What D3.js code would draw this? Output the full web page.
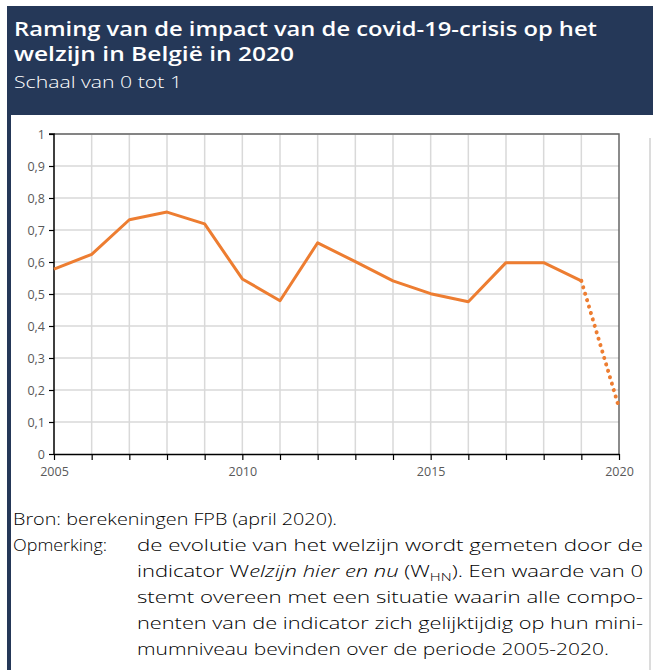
<!DOCTYPE html>
<html>
<head>
<meta charset="utf-8">
<script src="https://cdn.jsdelivr.net/npm/d3@7"></script>
<style>
    body { margin: 0; background: #fff; }
    #chart { width: 653px; height: 670px; }
</style>
</head>
<body>
<div id="chart"></div>
<script>
// Welzijn hier en nu, 2005-2019 (observed)
const years = [2005, 2006, 2007, 2008, 2009, 2010, 2011, 2012, 2013, 2014, 2015, 2016, 2017, 2018, 2019];
const welzijn = [0.578, 0.624, 0.732, 0.756, 0.719, 0.547, 0.479, 0.660, 0.601, 0.541, 0.501, 0.476, 0.598, 0.598, 0.541];

// Raming 2020 (dotted)
const ramingYears = [2019, 2020];
const ramingValues = [0.541, 0.145];

const yTicks = [0, 0.1, 0.2, 0.3, 0.4, 0.5, 0.6, 0.7, 0.8, 0.9, 1];
const xTickYears = [2005, 2006, 2007, 2008, 2009, 2010, 2011, 2012, 2013, 2014, 2015, 2016, 2017, 2018, 2019, 2020];
const xLabels = [2005, 2010, 2015, 2020];

const titleLines = ["Raming van de impact van de covid-19-crisis op het", "welzijn in België in 2020"];
const subtitle = "Schaal van 0 tot 1";

class WelzijnChart {
    constructor(parentElement) {
        this.parentElement = parentElement;
        this.initVis();
    }

    initVis() {
        let vis = this;

        vis.svg = d3.select(`#${vis.parentElement}`).append("svg")
            .attr("width", 653)
            .attr("height", 670);

        // header block + left border
        vis.svg.append("rect")
            .attr("x", 7).attr("y", 6)
            .attr("width", 646).attr("height", 109)
            .attr("fill", "#253858");
        vis.svg.append("rect")
            .attr("x", 7).attr("y", 115)
            .attr("width", 4).attr("height", 555)
            .attr("fill", "#253858");
        vis.svg.append("rect")
            .attr("x", 649).attr("y", 138)
            .attr("width", 2).attr("height", 532)
            .attr("fill", "#dcdcdc");

        vis.svg.selectAll("text.title")
            .data(titleLines)
            .enter().append("text")
            .attr("class", "title")
            .attr("x", 14)
            .attr("y", (d, i) => 36 + i * 25)
            .attr("fill", "#fff")
            .attr("font-family", "'Open Sans', sans-serif")
            .attr("font-weight", 600)
            .attr("font-size", "20px")
            .attr("textLength", (d, i) => i === 0 ? 583 : 280)
            .attr("lengthAdjust", "spacingAndGlyphs")
            .text(d => d);

        vis.svg.append("text")
            .attr("x", 14)
            .attr("y", 88)
            .attr("fill", "#fff")
            .attr("font-family", "'Open Sans', sans-serif")
            .attr("font-weight", 300)
            .attr("font-size", "16px")
            .attr("textLength", 168)
            .attr("lengthAdjust", "spacingAndGlyphs")
            .text(subtitle);

        // plot area
        vis.margin = { top: 134, left: 54 };
        vis.width = 565;
        vis.height = 320;

        vis.g = vis.svg.append("g")
            .attr("transform", `translate(${vis.margin.left},${vis.margin.top})`);

        vis.x = d3.scaleLinear().domain([2005, 2020]).range([0, vis.width]);
        vis.y = d3.scaleLinear().domain([0, 1]).range([vis.height, 0]);

        vis.updateVis();
        vis.drawNotes();
    }

    updateVis() {
        let vis = this;

        // gridlines
        vis.g.selectAll("line.hgrid")
            .data(yTicks.slice(1))
            .enter().append("line")
            .attr("class", "hgrid")
            .attr("x1", 0).attr("x2", vis.width)
            .attr("y1", d => vis.y(d)).attr("y2", d => vis.y(d))
            .attr("stroke", "#d9d9d9")
            .attr("stroke-width", 1.5);
        vis.g.selectAll("line.vgrid")
            .data(xTickYears.slice(1, -1))
            .enter().append("line")
            .attr("class", "vgrid")
            .attr("x1", d => vis.x(d)).attr("x2", d => vis.x(d))
            .attr("y1", 0).attr("y2", vis.height)
            .attr("stroke", "#d9d9d9")
            .attr("stroke-width", 1.5);

        // frame top + right
        vis.g.append("path")
            .attr("d", `M0,0H${vis.width}V${vis.height}`)
            .attr("fill", "none")
            .attr("stroke", "#666")
            .attr("stroke-width", 1.5);

        // axes
        vis.yAxis = d3.axisLeft(vis.y)
            .tickValues(yTicks)
            .tickSize(5)
            .tickPadding(4)
            .tickFormat(d => d3.format(".1f")(d).replace(".0", "").replace(".", ","));
        vis.xAxis = d3.axisBottom(vis.x)
            .tickValues(xTickYears)
            .tickSize(6)
            .tickSizeOuter(0)
            .tickFormat(d => xLabels.includes(d) ? d : "");

        let yg = vis.g.append("g").attr("class", "y-axis").call(vis.yAxis);
        let xg = vis.g.append("g").attr("class", "x-axis")
            .attr("transform", `translate(0,${vis.height})`)
            .call(vis.xAxis);

        [yg, xg].forEach(ax => {
            ax.select(".domain").attr("stroke", "#000").attr("stroke-width", 1.5);
            ax.selectAll(".tick line").attr("stroke", "#000").attr("stroke-width", 1.2);
            ax.selectAll("text")
                .attr("fill", "#595959")
                .attr("font-family", "'Open Sans', sans-serif")
                .attr("font-size", "12.5px");
        });
        yg.select(".domain").attr("d", `M-5,0H0V${vis.height}`);
        xg.selectAll("text").attr("dy", "13px");

        // lines
        let line = d3.line()
            .x(d => vis.x(d.year))
            .y(d => vis.y(d.value));

        vis.g.append("path")
            .datum(years.map((yr, i) => ({ year: yr, value: welzijn[i] })))
            .attr("d", line)
            .attr("fill", "none")
            .attr("stroke", "#ed7d31")
            .attr("stroke-width", 3)
            .attr("stroke-linejoin", "round");

        vis.g.append("path")
            .datum(ramingYears.map((yr, i) => ({ year: yr, value: ramingValues[i] })))
            .attr("d", line)
            .attr("fill", "none")
            .attr("stroke", "#ed7d31")
            .attr("stroke-width", 4)
            .attr("stroke-linecap", "round")
            .attr("stroke-dasharray", "0.1,6.6");
    }

    drawNotes() {
        let vis = this;
        const font = "'Open Sans', sans-serif";
        const notes = vis.svg.append("g")
            .attr("font-family", font)
            .attr("font-weight", 300)
            .attr("font-size", "16px")
            .attr("fill", "#000");

        notes.append("text")
            .attr("x", 13).attr("y", 525)
            .attr("textLength", 324)
            .attr("lengthAdjust", "spacingAndGlyphs")
            .text("Bron: berekeningen FPB (april 2020).");

        notes.append("text")
            .attr("x", 13).attr("y", 551)
            .attr("textLength", 94)
            .attr("lengthAdjust", "spacingAndGlyphs")
            .text("Opmerking:");

        const lines = [
            { t: "de evolutie van het welzijn wordt gemeten door de", w: 506 },
            { t: null, w: 506 },
            { t: "stemt overeen met een situatie waarin alle compo-", w: 506 },
            { t: "nenten van de indicator zich gelijktijdig op hun mini-", w: 506 },
            { t: "mumniveau bevinden over de periode 2005-2020.", w: 472 }
        ];

        lines.forEach((l, i) => {
            let txt = notes.append("text")
                .attr("x", 137).attr("y", 551 + i * 26)
                .attr("textLength", l.w)
                .attr("lengthAdjust", "spacingAndGlyphs");
            if (l.t) {
                txt.text(l.t);
            } else {
                txt.append("tspan").text("indicator W");
                txt.append("tspan").attr("font-style", "italic").text("elzijn hier en nu");
                txt.append("tspan").text(" (W");
                txt.append("tspan").attr("font-size", "11px").attr("dy", 4).text("HN");
                txt.append("tspan").attr("dy", -4).text("). Een waarde van 0");
            }
        });
    }
}

new WelzijnChart("chart");
</script>
</body>
</html>
